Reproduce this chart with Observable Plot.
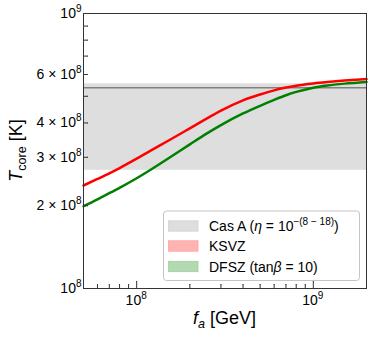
<!DOCTYPE html>
<html>
<head>
<meta charset="utf-8">
<script src="https://cdn.jsdelivr.net/npm/d3@7"></script>
<script src="https://cdn.jsdelivr.net/npm/@observablehq/plot@0.6"></script>
<style>
  html, body { margin: 0; padding: 0; background: white; }
  svg { display: block; }
</style>
</head>
<body>
<div id="chart"></div>
<script>
// ---- data ----
const xDomain = [5e7, 2e9];
const yDomain = [1e8, 1e9];
const fa   = [5e7, 6e7, 7e7, 8e7, 1e8, 1.2e8, 1.5e8, 2e8, 2.5e8, 3e8, 4e8, 5e8, 6e8, 7e8, 8e8, 1e9, 1.2e9, 1.5e9, 2e9];
const ksvz = [2.369e8, 2.502e8, 2.624e8, 2.742e8, 2.966e8, 3.172e8, 3.438e8, 3.823e8, 4.153e8, 4.435e8, 4.834e8, 5.077e8, 5.255e8, 5.378e8, 5.465e8, 5.569e8, 5.635e8, 5.704e8, 5.778e8];
const dfsz = [1.991e8, 2.110e8, 2.221e8, 2.324e8, 2.518e8, 2.703e8, 2.962e8, 3.343e8, 3.664e8, 3.926e8, 4.329e8, 4.618e8, 4.851e8, 5.042e8, 5.186e8, 5.374e8, 5.473e8, 5.559e8, 5.640e8];
const casABand = [2.69e8, 5.55e8];
const casALine = [5.37e8];
const xMajor = [1e8, 1e9];
const xMinor = [6e7, 7e7, 8e7, 9e7, 2e8, 3e8, 4e8, 5e8, 6e8, 7e8, 8e8, 9e8];
const yMajor = [1e8, 1e9];
const yMinor = [2e8, 3e8, 4e8, 5e8, 6e8, 7e8, 8e8, 9e8];
const xTickLabels = [[1e8, "8"], [1e9, "9"]];
const yTickLabels = [[1e8, "", "8"], [2e8, "2", "8"], [3e8, "3", "8"], [4e8, "4", "8"], [6e8, "6", "8"], [1e9, "", "9"]];
const seriesNames = ["KSVZ", "DFSZ"];

const rowsK = fa.map((f, i) => ({fa: f, T: ksvz[i]}));
const rowsD = fa.map((f, i) => ({fa: f, T: dfsz[i]}));

const axisColor = "#333";
const FONT = "'Liberation Sans', Arial, Helvetica, sans-serif";

const plot = Plot.plot({
  width: 374,
  height: 340,
  marginLeft: 83,
  marginRight: 8,
  marginTop: 13,
  marginBottom: 52,
  x: {type: "log", domain: xDomain, axis: null},
  y: {type: "log", domain: yDomain, axis: null},
  style: {fontFamily: FONT, background: "white", overflow: "visible"},
  marks: [
    Plot.rect([casABand], {x1: () => xDomain[0], x2: () => xDomain[1], y1: d => d[0], y2: d => d[1], fill: "#dedede"}),
    Plot.ruleY(casALine, {stroke: "#808080", strokeWidth: 1.5}),
    Plot.line(rowsK, {x: "fa", y: "T", stroke: "#ff0000", strokeWidth: 2.5, curve: "monotone-x"}),
    Plot.line(rowsD, {x: "fa", y: "T", stroke: "#008000", strokeWidth: 2.5, curve: "monotone-x"}),
    Plot.frame({stroke: axisColor, strokeWidth: 1}),
    // inward ticks
    Plot.vector(yMajor, {x: () => xDomain[0], y: d => d, length: 7, rotate: 90, anchor: "start", shape: "arrow", r: 0, stroke: axisColor, strokeWidth: 1}),
    Plot.vector(yMinor, {x: () => xDomain[0], y: d => d, length: 4, rotate: 90, anchor: "start", shape: "arrow", r: 0, stroke: axisColor, strokeWidth: 1}),
    Plot.vector(xMajor, {x: d => d, y: () => yDomain[0], length: 7, rotate: 0, anchor: "start", shape: "arrow", r: 0, stroke: axisColor, strokeWidth: 1}),
    Plot.vector(xMinor, {x: d => d, y: () => yDomain[0], length: 4, rotate: 0, anchor: "start", shape: "arrow", r: 0, stroke: axisColor, strokeWidth: 1})
  ]
});

const sx = plot.scale("x"), sy = plot.scale("y");
const svg = d3.select(plot);

// y tick labels
yTickLabels.forEach(([v, m, e]) => {
  const t = svg.append("text")
    .attr("x", 81.5).attr("y", sy.apply(v) + 5)
    .attr("text-anchor", "end")
    .attr("font-family", FONT).attr("font-size", 14).attr("fill", "#000");
  t.append("tspan").text(m ? m + " \u00d7 10" : "10");
  t.append("tspan").attr("dy", -6).attr("font-size", 10).text(e);
});
// x tick labels
xTickLabels.forEach(([v, e]) => {
  const t = svg.append("text")
    .attr("x", sx.apply(v)).attr("y", 305)
    .attr("text-anchor", "middle")
    .attr("font-family", FONT).attr("font-size", 14).attr("fill", "#000");
  t.append("tspan").text("10");
  t.append("tspan").attr("dy", -6).attr("font-size", 10).text(e);
});

// axis titles
const xt = svg.append("text").attr("x", 224.5).attr("y", 323.5).attr("text-anchor", "middle")
  .attr("font-family", FONT).attr("font-size", 18).attr("fill", "#000");
xt.append("tspan").attr("font-style", "italic").text("f");
xt.append("tspan").attr("font-style", "italic").attr("font-size", 12.6).attr("dy", 4).text("a");
xt.append("tspan").attr("dy", -4).text(" [GeV]");

const yt = svg.append("text").attr("transform", "translate(22,150.5) rotate(-90)").attr("text-anchor", "middle")
  .attr("font-family", FONT).attr("font-size", 18).attr("fill", "#000");
yt.append("tspan").attr("font-style", "italic").text("T");
yt.append("tspan").attr("font-size", 12.6).attr("dy", 4).text("core");
yt.append("tspan").attr("dy", -4).text(" [K]");

// legend
const lg = svg.append("g").attr("font-family", FONT).attr("font-size", 14).attr("text-anchor", "start").attr("fill", "#000");
lg.append("rect").attr("x", 163.5).attr("y", 211).attr("width", 196).attr("height", 69.5).attr("rx", 3)
  .style("fill", "white").style("fill-opacity", 0.8).style("stroke", "#c4c4c4").style("stroke-width", 1);
const sw = [["#dedede", "#d2d2d2"], ["#ffb3b3", "#ffa0a0"], ["#b3d9b3", "#a0cfa0"]];
const rowY = [226, 246, 266.5];
sw.forEach(([f, s], i) => {
  lg.append("rect").attr("x", 168.5).attr("y", rowY[i] - 5.2).attr("width", 29.5).attr("height", 10.4)
    .style("fill", f).style("stroke", s).style("stroke-width", 0.8);
});
const t0 = lg.append("text").attr("x", 209).attr("y", rowY[0] + 5).attr("text-anchor", "start");
t0.append("tspan").text("Cas A (");
t0.append("tspan").attr("font-style", "italic").text("\u03b7");
t0.append("tspan").text(" = 10");
t0.append("tspan").attr("dy", -6).attr("font-size", 10).text("\u2212(8 \u2212 18)");
t0.append("tspan").attr("dy", 6).text(")");
lg.append("text").attr("x", 209).attr("y", rowY[1] + 5).attr("text-anchor", "start").text(seriesNames[0]);
const t2 = lg.append("text").attr("x", 209).attr("y", rowY[2] + 5).attr("text-anchor", "start");
t2.append("tspan").text(seriesNames[1] + " (tan");
t2.append("tspan").attr("font-style", "italic").text("\u03b2");
t2.append("tspan").text(" = 10)");

document.getElementById("chart").appendChild(plot);
</script>
</body>
</html>
